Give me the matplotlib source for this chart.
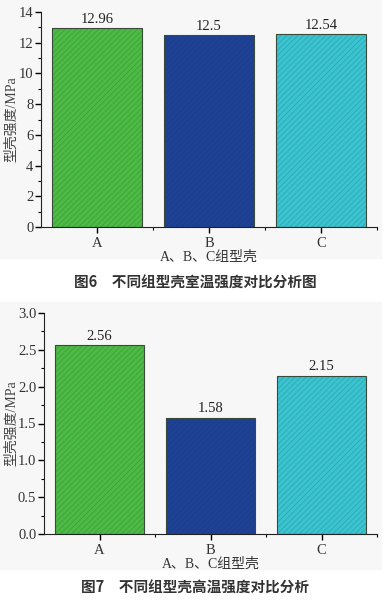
import matplotlib.pyplot as plt
from matplotlib.patches import Rectangle
from matplotlib.ticker import MultipleLocator

plt.rcParams['hatch.linewidth'] = 0.5

# data
groups = ['A', 'B', 'C']
room_temp = [12.96, 12.5, 12.54]
room_labels = ['12.96', '12.5', '12.54']
high_temp = [2.56, 1.58, 2.15]
high_labels = ['2.56', '1.58', '2.15']
bar_colors = ['#4dba45', '#1d3f93', '#3bc3cf']
hatch_colors = ['#3c9c36', '#23468f', '#2aa5b2']
xlabel = 'A、B、C组型壳'
ylabel = '型壳强度/MPa'
cap6 = '图6　不同组型壳室温强度对比分析图'
cap7 = '图7　不同组型壳高温强度对比分析'

W, H = 390, 602
fig = plt.figure(figsize=(W / 100, H / 100), dpi=100)
serif = ['Liberation Serif', 'Noto Sans CJK SC']
cjk = ['Noto Sans CJK SC', 'DejaVu Sans']

# light gray panels behind each chart
for y0, y1 in [(0, 258), (302, 569)]:
    fig.patches.append(Rectangle((0, 1 - y1 / H), 381 / W, (y1 - y0) / H,
                                 transform=fig.transFigure, color='#f7f7f7', zorder=-5))


def make_axes(l, t, r, b):
    return fig.add_axes([l / W, 1 - b / H, (r - l) / W, (b - t) / H])


def draw(ax, vals, labels, ymax, major, minor, fmt, ylab_x):
    x = range(1, len(vals) + 1)
    for xi, v, c, hc in zip(x, vals, bar_colors, hatch_colors):
        ax.bar(xi, v, width=0.8, color=c, edgecolor=hc, hatch='//////', linewidth=0, zorder=2)
        ax.bar(xi, v, width=0.8, fill=False, edgecolor='#3a4a3a', linewidth=0.8, zorder=3)
    for xi, v, s in zip(x, vals, labels):
        ax.text(xi, v + ymax * 0.01, s, ha='center', va='bottom', fontsize=10.5,
                family=serif, color='#222222')
    ax.set_xlim(0.5, 3.5)
    ax.set_ylim(0, ymax)
    ax.set_xticks(list(x))
    ax.set_xticklabels(groups, family=serif, fontsize=10.5, color='#333333')
    ax.set_xticks([1.5, 2.5, 3.5], minor=True)
    ax.yaxis.set_major_locator(MultipleLocator(major))
    ax.yaxis.set_minor_locator(MultipleLocator(minor))
    ax.set_yticks(ax.get_yticks())
    ax.set_yticklabels([fmt.format(t) for t in ax.get_yticks()], family=serif,
                       fontsize=10.5, color='#333333')
    ax.set_ylim(0, ymax)
    ax.tick_params(which='major', direction='out', length=4, width=1)
    ax.tick_params(which='minor', direction='out', length=2.5, width=0.8)
    ax.tick_params(axis='y', pad=1.5)
    ax.set_xlabel(xlabel, family=serif, fontsize=10, color='#333333', labelpad=0)
    ax.set_ylabel(ylabel, family=serif, fontsize=10, color='#444444')
    ax.yaxis.set_label_coords(ylab_x, 0.5)
    for s in ['top', 'right']:
        ax.spines[s].set_visible(False)
    for s in ['left', 'bottom']:
        ax.spines[s].set_color('#222222')
    ax.patch.set_alpha(0)


ax1 = make_axes(41, 12, 377, 227)
draw(ax1, room_temp, room_labels, 14, 2, 1, '{:.0f}', (18 - 41) / 336)
ax2 = make_axes(44, 313, 377, 534)
draw(ax2, high_temp, high_labels, 3.0, 0.5, 0.25, '{:.1f}', (18 - 44) / 333)

fig.text(0.5, 1 - 283 / H, cap6, ha='center', va='center', fontsize=10.5,
         family=cjk, color='#333333', fontweight='bold')
fig.text(0.5, 1 - 588 / H, cap7, ha='center', va='center', fontsize=10.5,
         family=cjk, color='#333333', fontweight='bold')

fig.savefig('out.png', dpi=100)
